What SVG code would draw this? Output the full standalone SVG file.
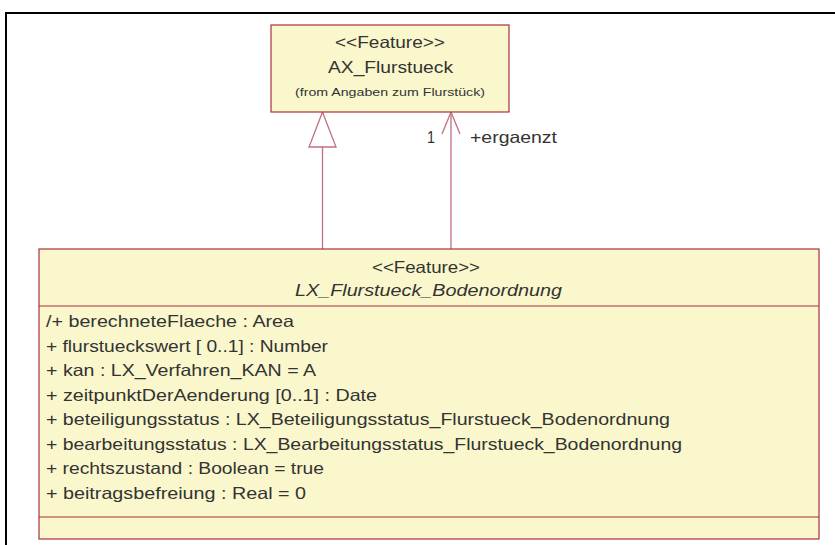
<svg xmlns="http://www.w3.org/2000/svg" width="835" height="545" viewBox="0 0 835 545">
  <style>
    .box { fill: #FAF7CC; stroke: #A8303F; stroke-width: 1.2; }
    .sep { stroke: #A8303F; stroke-width: 1.2; }
    .conn { fill: none; stroke: #C07080; stroke-width: 1.3; }
    .t { font-family: "Liberation Sans", Arial, sans-serif; font-size: 16.5px; fill: #333333; }
    .c { text-anchor: middle; }
    .i { font-style: italic; }
    .s { font-size: 11.5px; }
  </style>

  <!-- diagram frame -->
  <rect x="6" y="13" width="840" height="545" fill="#ffffff" stroke="#000000" stroke-width="2"/>

  <!-- connectors -->
  <g id="connectors">
    <!-- generalization: LX_Flurstueck_Bodenordnung -> AX_Flurstueck -->
    <line class="conn" x1="322.5" y1="147" x2="322.5" y2="249"/>
    <polygon class="conn" points="322.5,112 309,147 336,147" fill="#ffffff"/>
    <!-- association +ergaenzt -->
    <line class="conn" x1="451" y1="112" x2="451" y2="249"/>
    <polyline class="conn" points="442,134 451,112 460,134"/>
    <text class="t" x="427" y="143" textLength="8" lengthAdjust="spacingAndGlyphs">1</text>
    <text class="t" x="470" y="143" textLength="87" lengthAdjust="spacingAndGlyphs">+ergaenzt</text>
  </g>

  <!-- AX_Flurstueck -->
  <g id="AX_Flurstueck">
    <rect class="box" x="271" y="25" width="238" height="87"/>
    <text class="t c" x="390" y="48" textLength="110" lengthAdjust="spacingAndGlyphs">&lt;&lt;Feature&gt;&gt;</text>
    <text class="t c" x="390.5" y="73" textLength="125" lengthAdjust="spacingAndGlyphs">AX_Flurstueck</text>
    <text class="t c s" x="390" y="96" textLength="190" lengthAdjust="spacingAndGlyphs">(from Angaben zum Flurstück)</text>
  </g>

  <!-- LX_Flurstueck_Bodenordnung -->
  <g id="LX_Flurstueck_Bodenordnung">
    <rect class="box" x="39" y="249" width="780" height="290"/>
    <line class="sep" x1="39" y1="306" x2="819" y2="306"/>
    <line class="sep" x1="39" y1="517" x2="819" y2="517"/>
    <text class="t c" x="426" y="273" textLength="108" lengthAdjust="spacingAndGlyphs">&lt;&lt;Feature&gt;&gt;</text>
    <text class="t c i" x="428.5" y="296" textLength="267" lengthAdjust="spacingAndGlyphs">LX_Flurstueck_Bodenordnung</text>
    <text class="t" x="46" y="327" textLength="248" lengthAdjust="spacingAndGlyphs">/+ berechneteFlaeche : Area</text>
    <text class="t" x="46" y="352" textLength="282" lengthAdjust="spacingAndGlyphs">+ flurstueckswert [ 0..1] : Number</text>
    <text class="t" x="46" y="376" textLength="270" lengthAdjust="spacingAndGlyphs">+ kan : LX_Verfahren_KAN = A</text>
    <text class="t" x="46" y="401" textLength="331" lengthAdjust="spacingAndGlyphs">+ zeitpunktDerAenderung [0..1] : Date</text>
    <text class="t" x="46" y="425" textLength="624" lengthAdjust="spacingAndGlyphs">+ beteiligungsstatus : LX_Beteiligungsstatus_Flurstueck_Bodenordnung</text>
    <text class="t" x="46" y="450" textLength="636" lengthAdjust="spacingAndGlyphs">+ bearbeitungsstatus : LX_Bearbeitungsstatus_Flurstueck_Bodenordnung</text>
    <text class="t" x="46" y="474" textLength="278" lengthAdjust="spacingAndGlyphs">+ rechtszustand : Boolean = true</text>
    <text class="t" x="46" y="499" textLength="260" lengthAdjust="spacingAndGlyphs">+ beitragsbefreiung : Real = 0</text>
  </g>
</svg>
